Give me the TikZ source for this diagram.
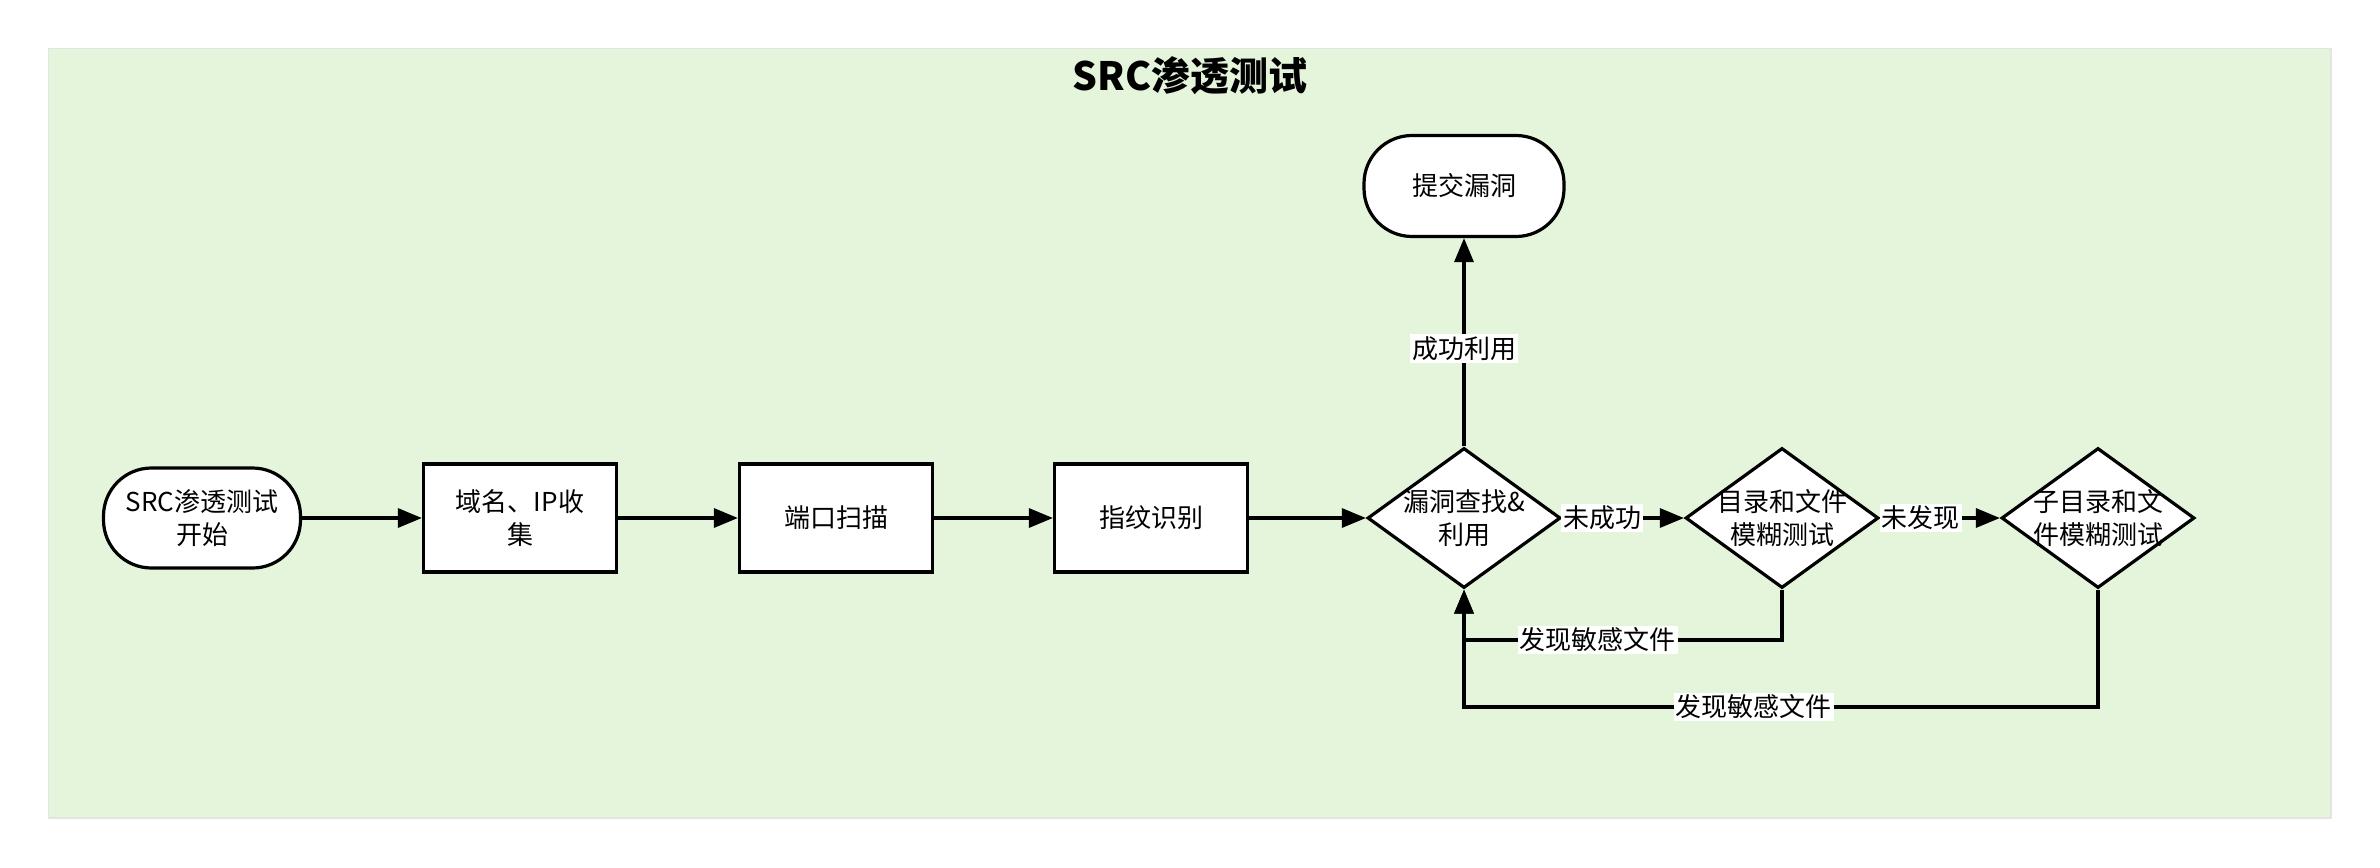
\documentclass[tikz,border=0pt]{standalone}
\usepackage{fontspec}
\setmainfont{Noto Sans CJK SC}
\usetikzlibrary{arrows.meta,shapes.geometric}
\definecolor{bggreen}{RGB}{228,245,219}
\definecolor{bgedge}{RGB}{225,228,225}
\tikzset{
  base/.style={draw=black, line width=1.6pt, fill=white, align=center,
    font=\fontsize{13}{16.5}\selectfont, inner sep=0pt},
  stadium/.style={base, rectangle, rounded corners=24pt, minimum width=98.5pt, minimum height=50pt},
  procbox/.style={base, rectangle, minimum width=96.5pt, minimum height=54pt},
  decision/.style={base, diamond, minimum width=96.5pt, minimum height=70pt},
  conn/.style={line width=1.6pt, -{Triangle[length=12pt,width=9.5pt]}},
  lbl/.style={fill=white, inner sep=1pt, font=\fontsize{13}{16}\selectfont},
}
\begin{document}
\begin{tikzpicture}[x=0.5pt,y=-0.5pt]
\useasboundingbox (0,0) rectangle (2380,867);
\fill[bggreen, draw=bgedge, line width=0.8pt] (48.6,48.6) rectangle (2331,818);
\node[font=\fontsize{19.5}{22}\selectfont\bfseries] (title) at (1190,76) {SRC渗透测试};

\node[stadium] (start) at (202,518) {SRC渗透测试\\开始};
\node[procbox] (collect) at (520,518) {域名、IP收\\集};
\node[procbox] (port) at (836,518) {端口扫描};
\node[procbox] (finger) at (1151,518) {指纹识别};
\node[decision, label={[align=center,font=\fontsize{13}{16.5}\selectfont]center:漏洞查找\&\\利用}] (vuln) at (1464,518) {};
\node[decision, label={[align=center,font=\fontsize{13}{16.5}\selectfont]center:目录和文件\\模糊测试}] (dir) at (1782,518) {};
\node[decision, label={[align=center,font=\fontsize{13}{16.5}\selectfont]center:子目录和文\\件模糊测试}] (subdir) at (2098,518) {};
\node[stadium, minimum width=100pt, minimum height=50.5pt] (submit) at (1464,186) {提交漏洞};

\coordinate (f1a) at (1782,640);
\coordinate (f1b) at (1464,640);
\coordinate (f2a) at (2098,707);
\coordinate (f2b) at (1464,707);

\draw[conn] (start) -- (collect);
\draw[conn] (collect) -- (port);
\draw[conn] (port) -- (finger);
\draw[conn] (finger) -- (vuln);
\draw[conn] (vuln.north) -- node[lbl, pos=0.47] {成功利用} (submit.south);
\draw[conn] (vuln.east) -- node[lbl, pos=0.33] {未成功} (dir.west);
\draw[conn] (dir.east) -- node[lbl, pos=0.34] {未发现} (subdir.west);
\draw[conn] (dir.south) -- (f1a) -- node[lbl, pos=0.58] {发现敏感文件} (f1b) -- (vuln.south);
\draw[conn] (subdir.south) -- (f2a) -- node[lbl, pos=0.543] {发现敏感文件} (f2b) -- (vuln.south);
\end{tikzpicture}
\end{document}
